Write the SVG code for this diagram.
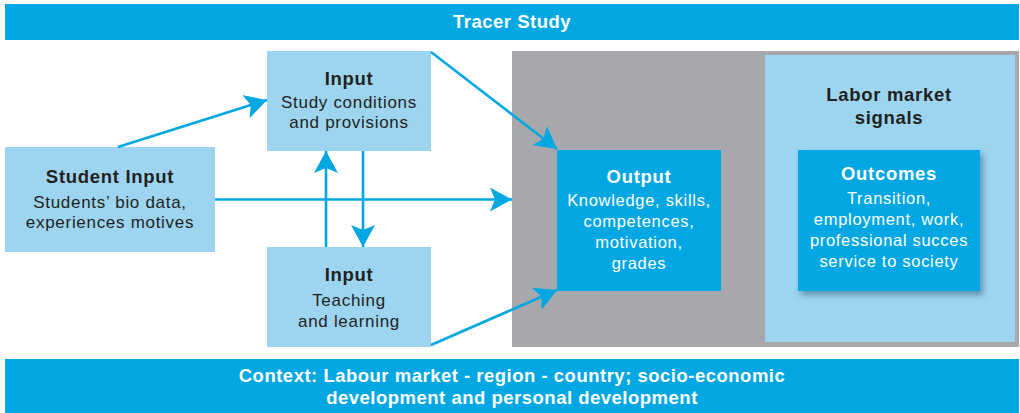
<svg xmlns="http://www.w3.org/2000/svg" width="1020" height="413" viewBox="0 0 1020 413">
  <style>
    .band { fill: #00a7e2; }
    .light { fill: #9dd5f1; }
    .blue { fill: #00a7e2; }
    .gray { fill: #a7a8ac; }
    text { font-family: "Liberation Sans", Arial, sans-serif; text-anchor: middle; letter-spacing: 0.7px; }
    .hb { font-size: 18.5px; font-weight: bold; }
    .hw { font-size: 18.5px; font-weight: bold; fill: #ffffff; letter-spacing: 0.5px; }
    .dark { fill: #231f20; }
    .white { fill: #ffffff; }
    .body { font-size: 17px; }
    .bodys { font-size: 16.5px; }
    .conn { stroke: #00a7e2; stroke-width: 2.6; fill: none; }
  </style>
  <defs>
    <marker id="arrow" viewBox="0 0 24 24" refX="22" refY="12" markerWidth="24" markerHeight="24" markerUnits="userSpaceOnUse" orient="auto">
      <path d="M22,12 L0,0 L5,12 L0,24 Z" fill="#00a7e2"/>
    </marker>
    <filter id="shadow" x="-20%" y="-20%" width="150%" height="150%">
      <feDropShadow dx="3" dy="4" stdDeviation="3" flood-color="#2f5670" flood-opacity="0.55"/>
    </filter>
  </defs>

  <g id="tracer-study">
    <rect class="band" x="5" y="4" width="1014" height="36"/>
    <text class="hw" x="512" y="28">Tracer Study</text>
  </g>

  <g id="context">
    <rect class="band" x="5" y="359" width="1014" height="54"/>
    <text class="hw" x="512" y="381.5">Context: Labour market - region - country; socio-economic</text>
    <text class="hw" x="512" y="404">development and personal development</text>
  </g>

  <g id="panel">
    <rect class="gray" x="512" y="51" width="507" height="296"/>
  </g>

  <g id="labor-market">
    <rect class="light" x="765" y="55" width="250" height="287"/>
    <text class="hb dark" x="889" y="100.5">Labor market</text>
    <text class="hb dark" x="889" y="123.5">signals</text>
  </g>

  <g id="outcomes">
    <rect class="blue" x="798" y="150" width="182" height="141" filter="url(#shadow)"/>
    <text class="hb white" x="889" y="179.5">Outcomes</text>
    <text class="bodys white" x="889" y="204">Transition,</text>
    <text class="bodys white" x="889" y="225">employment, work,</text>
    <text class="bodys white" x="889" y="246">professional succes</text>
    <text class="bodys white" x="889" y="267">service to society</text>
  </g>

  <g id="output">
    <rect class="blue" x="557" y="150" width="164" height="141"/>
    <text class="hb white" x="639" y="182.5">Output</text>
    <text class="bodys white" x="639" y="205.5">Knowledge, skills,</text>
    <text class="bodys white" x="639" y="226.7">competences,</text>
    <text class="bodys white" x="639" y="248">motivation,</text>
    <text class="bodys white" x="639" y="269">grades</text>
  </g>

  <g id="student-input">
    <rect class="light" x="5" y="147" width="210" height="105"/>
    <text class="hb dark" x="110" y="183">Student Input</text>
    <text class="body dark" x="110" y="208">Students’ bio data,</text>
    <text class="body dark" x="110" y="228">experiences motives</text>
  </g>

  <g id="input-study">
    <rect class="light" x="267" y="51" width="164" height="100"/>
    <text class="hb dark" x="349" y="84.5">Input</text>
    <text class="body dark" x="349" y="108.3">Study conditions</text>
    <text class="body dark" x="349" y="128.3">and provisions</text>
  </g>

  <g id="input-teaching">
    <rect class="light" x="267" y="247" width="164" height="100"/>
    <text class="hb dark" x="349" y="281">Input</text>
    <text class="body dark" x="349" y="306">Teaching</text>
    <text class="body dark" x="349" y="326.7">and learning</text>
  </g>

  <g id="connectors">
    <path class="conn" d="M118,147 L267,100" marker-end="url(#arrow)"/>
    <path class="conn" d="M215,199.5 L512,199.5" marker-end="url(#arrow)"/>
    <path class="conn" d="M326,247 L326,151" marker-end="url(#arrow)"/>
    <path class="conn" d="M363,151 L363,247" marker-end="url(#arrow)"/>
    <path class="conn" d="M431,52 L557,149" marker-end="url(#arrow)"/>
    <path class="conn" d="M431,345 L557,290" marker-end="url(#arrow)"/>
  </g>
</svg>
